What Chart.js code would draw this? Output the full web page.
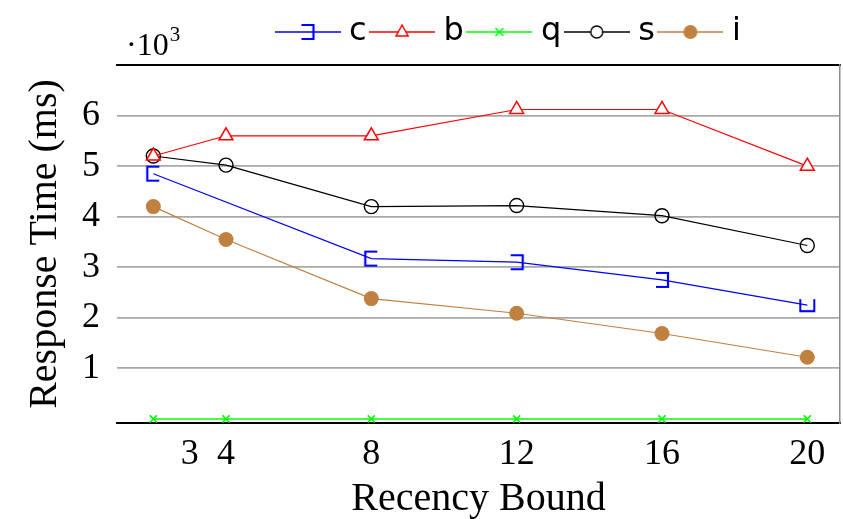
<!DOCTYPE html>
<html>
<head>
<meta charset="utf-8">
<script src="https://cdn.jsdelivr.net/npm/chart.js@4.4.1/dist/chart.umd.min.js"></script>
<style>
  html, body { margin: 0; padding: 0; background: #fff; }
  #responseChart { display: block; }
</style>
</head>
<body>
<canvas id="responseChart" width="843" height="519"></canvas>
<script>
// x values (recency bound) and response times in thousands of ms
const recencyBounds = [2, 4, 8, 12, 16, 20];
const cBounds = [2, 8, 12, 16, 20];
const valuesC = [4.85, 3.17, 3.1, 2.75, 2.25];
const valuesB = [5.2, 5.6, 5.6, 6.12, 6.12, 5.0];
const valuesQ = [0, 0, 0, 0, 0, 0];
const valuesS = [5.2, 5.02, 4.2, 4.22, 4.02, 3.43];
const valuesI = [4.2, 3.55, 2.38, 2.09, 1.69, 1.22];
const xTickValues = [3, 4, 8, 12, 16, 20];
const yTickValues = [1, 2, 3, 4, 5, 6];

const BLUE = '#0000ff';
const RED = '#ff0000';
const GREEN = '#00ff00';
const BLACK = '#000000';
const BROWN = '#bf8040';

const toPoints = (xs, ys) => xs.map((x, i) => ({ x: x, y: ys[i] }));

// half-square bracket mark used for series c
function makeBracket(color) {
  const cv = document.createElement('canvas');
  cv.width = 16;
  cv.height = 18;
  const g = cv.getContext('2d');
  g.strokeStyle = color;
  g.lineWidth = 2.2;
  g.beginPath();
  g.moveTo(2, 2);
  g.lineTo(14, 2);
  g.lineTo(14, 16);
  g.lineTo(2, 16);
  g.stroke();
  return cv;
}

// legend glyph: short line with the series mark in the middle
function makeLegendIcon(color, drawMark) {
  const cv = document.createElement('canvas');
  cv.width = 66;
  cv.height = 24;
  const g = cv.getContext('2d');
  g.strokeStyle = color;
  g.lineWidth = 1.6;
  g.beginPath();
  g.moveTo(0, 12);
  g.lineTo(66, 12);
  g.stroke();
  drawMark(g, 33, 12);
  return cv;
}

const bracketMark = makeBracket(BLUE);

const legendIcons = [
  makeLegendIcon(BLUE, (g, x, y) => { g.drawImage(bracketMark, x - 8, y - 9); }),
  makeLegendIcon(RED, (g, x, y) => {
    g.fillStyle = '#fff';
    g.strokeStyle = RED;
    g.lineWidth = 1.5;
    g.beginPath();
    g.moveTo(x, y - 7);
    g.lineTo(x + 6, y + 4);
    g.lineTo(x - 6, y + 4);
    g.closePath();
    g.fill();
    g.stroke();
  }),
  makeLegendIcon(GREEN, (g, x, y) => {
    g.strokeStyle = GREEN;
    g.lineWidth = 1.6;
    g.beginPath();
    g.moveTo(x - 4, y - 4); g.lineTo(x + 4, y + 4);
    g.moveTo(x + 4, y - 4); g.lineTo(x - 4, y + 4);
    g.stroke();
  }),
  makeLegendIcon(BLACK, (g, x, y) => {
    g.fillStyle = '#fff';
    g.strokeStyle = BLACK;
    g.lineWidth = 1.4;
    g.beginPath();
    g.arc(x, y, 6, 0, Math.PI * 2);
    g.fill();
    g.stroke();
  }),
  makeLegendIcon(BROWN, (g, x, y) => {
    g.fillStyle = BROWN;
    g.beginPath();
    g.arc(x, y, 7, 0, Math.PI * 2);
    g.fill();
  }),
];

// "·10³" multiplier above the y axis
const exponentLabel = {
  id: 'exponentLabel',
  afterDraw(chart) {
    const ctx = chart.ctx;
    ctx.save();
    ctx.fillStyle = '#000';
    ctx.textBaseline = 'alphabetic';
    ctx.font = '32px "Liberation Serif"';
    ctx.fillText('·10', 126, 55);
    const w = ctx.measureText('·10').width;
    ctx.font = '21px "Liberation Serif"';
    ctx.fillText('3', 126 + w + 1, 41);
    ctx.restore();
  },
};

// legend row starts right of centre
const legendShift = {
  id: 'legendShift',
  afterLayout(chart) {
    chart.legend.left = 272;
  },
};

const serif = (size) => ({ family: '"Liberation Serif", "DejaVu Serif", serif', size: size });

new Chart(document.getElementById('responseChart'), {
  type: 'line',
  data: {
    datasets: [
      {
        label: 'c', data: toPoints(cBounds, valuesC),
        borderColor: BLUE, borderWidth: 1.2,
        pointStyle: bracketMark, pointRotation: [180, 180, 0, 0, 90],
      },
      {
        label: 'b', data: toPoints(recencyBounds, valuesB),
        borderColor: RED, borderWidth: 1.2,
        pointStyle: 'triangle', pointRadius: 8, pointBorderWidth: 1.5,
        pointBorderColor: RED, pointBackgroundColor: '#fff',
      },
      {
        label: 'q', data: toPoints(recencyBounds, valuesQ),
        borderColor: GREEN, borderWidth: 1.6,
        pointStyle: 'crossRot', pointRadius: 5, pointBorderWidth: 1.6,
        pointBorderColor: GREEN,
      },
      {
        label: 's', data: toPoints(recencyBounds, valuesS),
        borderColor: BLACK, borderWidth: 1.2,
        pointStyle: 'circle', pointRadius: 7, pointBorderWidth: 1.4,
        pointBorderColor: BLACK, pointBackgroundColor: 'rgba(255,255,255,0)',
      },
      {
        label: 'i', data: toPoints(recencyBounds, valuesI),
        borderColor: BROWN, borderWidth: 1.2,
        pointStyle: 'circle', pointRadius: 7.5, pointBorderWidth: 0,
        pointBackgroundColor: BROWN,
      },
    ],
  },
  options: {
    responsive: false,
    animation: false,
    devicePixelRatio: 1,
    layout: { autoPadding: false, padding: { top: 6, left: 0, right: 0, bottom: 0 } },
    scales: {
      x: {
        type: 'linear',
        position: 'bottom',
        min: 1,
        max: 20.9,
        afterBuildTicks: (scale) => { scale.ticks = xTickValues.map((v) => ({ value: v })); },
        afterFit: (scale) => { scale.height = 96; },
        grid: { display: false },
        border: { display: true, color: BLACK, width: 2 },
        ticks: { color: '#000', font: serif(36), padding: 2, maxRotation: 0 },
        title: { display: true, text: 'Recency Bound', color: '#000', font: { ...serif(40), lineHeight: 1.0 }, padding: { top: 0, bottom: 0 } },
      },
      xTop: {
        type: 'linear',
        position: 'top',
        min: 1,
        max: 20.9,
        afterFit: (scale) => { scale.height = 7; },
        grid: { display: false },
        ticks: { display: false },
        border: { display: true, color: BLACK, width: 2 },
      },
      y: {
        type: 'linear',
        position: 'left',
        min: -0.08,
        max: 7.0,
        afterBuildTicks: (scale) => { scale.ticks = yTickValues.map((v) => ({ value: v })); },
        afterFit: (scale) => { scale.width = 117; },
        grid: { color: '#a8a8a8', lineWidth: 1.8, drawTicks: false },
        border: { display: false },
        ticks: { color: '#000', font: serif(36), padding: 17 },
        title: { display: true, text: 'Response Time (ms)', color: '#000', font: serif(40), padding: { top: 21, bottom: 0 } },
      },
      yRight: {
        type: 'linear',
        position: 'right',
        min: -0.08,
        max: 7.0,
        afterFit: (scale) => { scale.width = 3; },
        grid: { display: false },
        ticks: { display: false },
        border: { display: true, color: '#8c8c8c', width: 1.5 },
      },
    },
    plugins: {
      legend: {
        display: true,
        position: 'top',
        align: 'start',
        labels: {
          usePointStyle: true,
          pointStyleWidth: 51,
          padding: 10,
          color: '#000',
          font: { family: '"DejaVu Sans", sans-serif', size: 32 },
          generateLabels: (chart) =>
            Chart.defaults.plugins.legend.labels.generateLabels(chart).map((item, i) => ({
              ...item,
              pointStyle: legendIcons[i],
              rotation: 0,
            })),
        },
      },
      tooltip: { enabled: false },
    },
  },
  plugins: [exponentLabel, legendShift],
});
</script>
</body>
</html>
